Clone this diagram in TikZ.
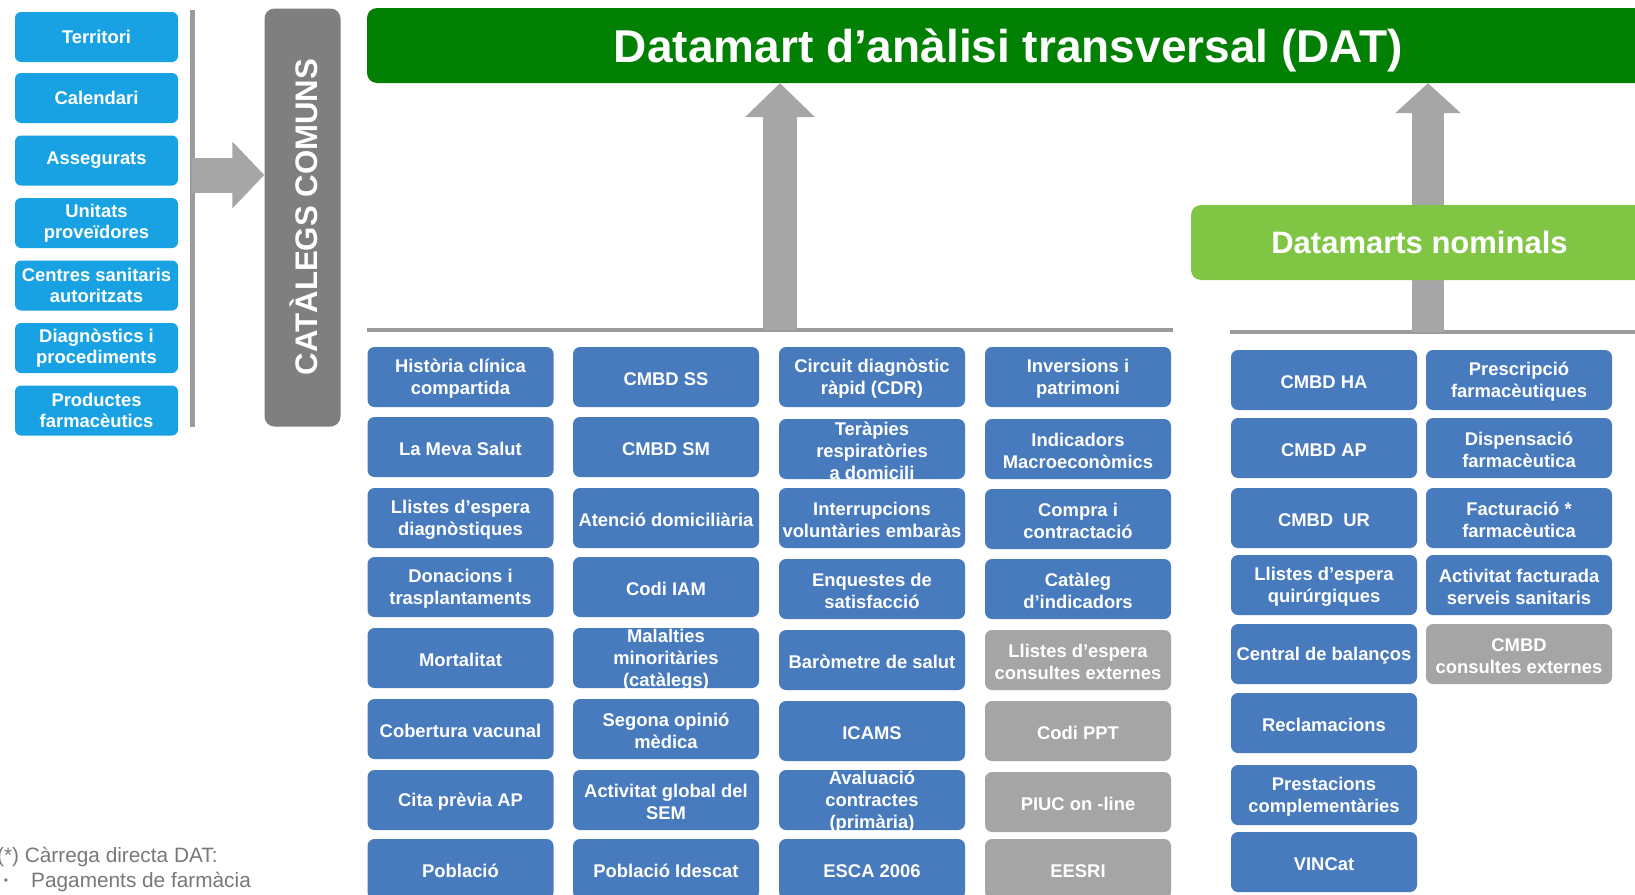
\documentclass[tikz,border=0pt]{standalone}
\usepackage{fontspec}
\setmainfont{Liberation Sans}
\usetikzlibrary{arrows.meta}
\definecolor{tileblue}{RGB}{72,122,190}
\definecolor{tilegray}{RGB}{165,165,165}
\definecolor{leftblue}{RGB}{24,162,228}
\definecolor{catgray}{RGB}{127,127,127}
\definecolor{datgreen}{RGB}{2,128,4}
\definecolor{nomgreen}{RGB}{128,198,68}
\definecolor{arrowgray}{RGB}{166,166,166}
\definecolor{linegray}{RGB}{155,155,155}
\definecolor{notegray}{RGB}{120,120,120}
\newcommand\tl[5]{\node[#1] (#2) at (#3,#4) {}; \node[ttext] (#2-t) at (#2.center) {#5};}
\begin{document}
\begin{tikzpicture}[x=1pt,y=-1pt,
  tile/.style={fill=tileblue, rounded corners=7pt, minimum width=186pt, minimum height=60pt, inner sep=0pt},
  gtile/.style={tile, fill=tilegray},
  ttext/.style={text=white, font=\fontsize{18.4}{22}\selectfont\bfseries, align=center, inner sep=0pt, yshift=-2pt},
  lbox/.style={fill=leftblue, rounded corners=6pt, minimum width=163pt, minimum height=50pt, inner sep=0pt, text=white, font=\fontsize{18.4}{21}\selectfont\bfseries, align=center},
  gline/.style={draw=linegray, line width=4.5pt}
]
\useasboundingbox (0,0) rectangle (1635,894);
\clip (0,0) rectangle (1635,894);
\fill[white] (0,0) rectangle (1635,894);

% left catalogue boxes
\node[lbox] (terr) at (96.5,37) {Territori};
\node[lbox] (cal) at (96.5,98) {Calendari};
\node[lbox] (ass) at (96.5,160.5) {Assegurats};
\node[lbox] (uni) at (96.5,223) {Unitats\\proveïdores};
\node[lbox] (cen) at (96.5,285.5) {Centres sanitaris\\autoritzats};
\node[lbox] (dia) at (96.5,348) {Diagnòstics i\\procediments};
\node[lbox] (pro) at (96.5,410.5) {Productes\\farmacèutics};

\coordinate (vtop) at (192,10);
\coordinate (vbot) at (192,427);
\draw[draw=linegray, line width=5pt] (vtop) -- (vbot);

\node[fill=catgray, rounded corners=10pt, minimum width=418pt, minimum height=76pt, inner sep=0pt, rotate=90] (cat) at (302.5,217.5) {};
\node[rotate=90, inner sep=0pt, text=white, font=\fontsize{31.2}{34}\selectfont\bfseries] (cat-t) at (303.5,217) {CATÀLEGS COMUNS};

\coordinate (larr) at (192,175);
\draw[draw=arrowgray, line width=35pt, -{Triangle[length=32pt,width=65pt]}] (larr) -- (larr -| cat.north);

% top bars
\node[fill=datgreen, rounded corners=10pt, minimum width=1283pt, minimum height=75pt, inner sep=0pt] (dat) at (1008.5,45.5) {};
\node[inner sep=0pt, text=white, font=\fontsize{46}{50}\selectfont\bfseries] (dat-t) at (1008.5,50) {Datamart d’anàlisi transversal (DAT)};

% lines
\coordinate (l1a) at (367,330);
\coordinate (l1b) at (1173,330);
\coordinate (l2a) at (1230,332);
\coordinate (l2b) at (1640,332);
\draw[gline] (l1a) -- (l1b);
\draw[gline] (l2a) -- (l2b);

% big up arrows
\coordinate (a1) at (780,330);
\coordinate (a2) at (1428,332);
\draw[draw=arrowgray, line width=34pt, -{Triangle[length=34pt,width=68pt]}] (a1) -- (a1 |- dat.south);
\draw[draw=arrowgray, line width=32pt, -{Triangle[length=30pt,width=64pt]}] (a2) -- (a2 |- dat.south);

\node[fill=nomgreen, rounded corners=10pt, minimum width=457pt, minimum height=75pt, inner sep=0pt, text=white, font=\fontsize{31}{34}\selectfont\bfseries] (nom) at (1419.5,242.5) {Datamarts nominals};

% column 1
\tl{tile}{c1a}{460.5}{377}{Història clínica\\compartida}
\tl{tile}{c1b}{460.5}{447}{La Meva Salut}
\tl{tile}{c1c}{460.5}{518}{Llistes d'espera\\diagnòstiques}
\tl{tile}{c1d}{460.5}{587}{Donacions i\\trasplantaments}
\tl{tile}{c1e}{460.5}{658}{Mortalitat}
\tl{tile}{c1f}{460.5}{729}{Cobertura vacunal}
\tl{tile}{c1g}{460.5}{800}{Cita prèvia AP}
\tl{tile}{c1h}{460.5}{869}{Població}
% column 2
\tl{tile}{c2a}{666}{377}{CMBD SS}
\tl{tile}{c2b}{666}{447}{CMBD SM}
\tl{tile}{c2c}{666}{518}{Atenció domiciliària}
\tl{tile}{c2d}{666}{587}{Codi IAM}
\tl{tile}{c2e}{666}{658}{Malalties\\minoritàries\\(catàlegs)}
\tl{tile}{c2f}{666}{729}{Segona opinió\\mèdica}
\tl{tile}{c2g}{666}{800}{Activitat global del\\SEM}
\tl{tile}{c2h}{666}{869}{Població Idescat}
% column 3
\tl{tile}{c3a}{872}{377}{Circuit diagnòstic\\ràpid (CDR)}
\tl{tile}{c3b}{872}{449}{Teràpies\\respiratòries\\a domicili}
\tl{tile}{c3c}{872}{518}{Interrupcions\\voluntàries embaràs}
\tl{tile}{c3d}{872}{589}{Enquestes de\\satisfacció}
\tl{tile}{c3e}{872}{660}{Baròmetre de salut}
\tl{tile}{c3f}{872}{731}{ICAMS}
\tl{tile}{c3g}{872}{800}{Avaluació\\contractes\\(primària)}
\tl{tile}{c3h}{872}{869}{ESCA 2006}
% column 4
\tl{tile}{c4a}{1078}{377}{Inversions i\\patrimoni}
\tl{tile}{c4b}{1078}{449}{Indicadors\\Macroeconòmics}
\tl{tile}{c4c}{1078}{519}{Compra i\\contractació}
\tl{tile}{c4d}{1078}{589}{Catàleg\\d'indicadors}
\tl{gtile}{c4e}{1078}{660}{Llistes d'espera\\consultes externes}
\tl{gtile}{c4f}{1078}{731}{Codi PPT}
\tl{gtile}{c4g}{1078}{802}{PIUC on -line}
\tl{gtile}{c4h}{1078}{869}{EESRI}
% column 5
\tl{tile}{c5a}{1324}{380}{CMBD HA}
\tl{tile}{c5b}{1324}{448}{CMBD AP}
\tl{tile}{c5c}{1324}{518}{CMBD\ \ UR}
\tl{tile}{c5d}{1324}{585}{Llistes d'espera\\quirúrgiques}
\tl{tile}{c5e}{1324}{654}{Central de balanços}
\tl{tile}{c5f}{1324}{723}{Reclamacions}
\tl{tile}{c5g}{1324}{795}{Prestacions\\complementàries}
\tl{tile}{c5h}{1324}{862}{VINCat}
% column 6
\tl{tile}{c6a}{1519}{380}{Prescripció\\farmacèutiques}
\tl{tile}{c6b}{1519}{448}{Dispensació\\farmacèutica}
\tl{tile}{c6c}{1519}{518}{Facturació *\\farmacèutica}
\tl{tile}{c6d}{1519}{585}{Activitat facturada\\serveis sanitaris}
\tl{gtile}{c6e}{1519}{654}{CMBD\\consultes externes}

% footnote
\node[anchor=west, inner sep=0pt, text=notegray, font=\fontsize{20.8}{24}\selectfont] (fn1) at (-3,857) {(*) Càrrega directa DAT:};
\node[anchor=west, inner sep=0pt, text=notegray, font=\fontsize{20.8}{24}\selectfont] (fn2) at (31,882) {Pagaments de farmàcia};
\node[inner sep=0pt, text=notegray, font=\fontsize{12}{14}\selectfont] (fnb) at (6,882) {•};
\end{tikzpicture}
\end{document}
